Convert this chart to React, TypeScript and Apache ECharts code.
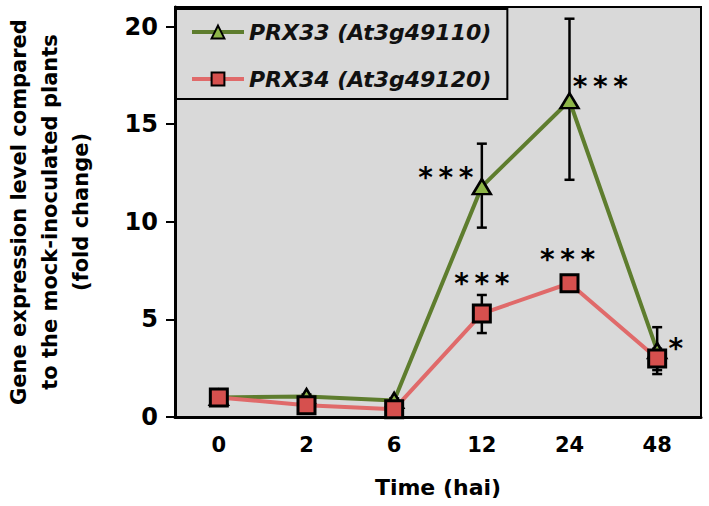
import React, { useEffect, useRef } from "react";
import * as echarts from "echarts";

const times = ["0", "2", "6", "12", "24", "48"];
const prx33 = [1.0, 1.05, 0.85, 11.8, 16.2, 3.4];
const prx33Low = [0.9, 0.95, 0.75, 9.7, 12.15, 2.2];
const prx33High = [1.1, 1.15, 0.95, 14.0, 20.4, 4.6];
const prx34 = [1.0, 0.6, 0.4, 5.3, 6.85, 3.0];
const prx34Low = [0.9, 0.45, 0.3, 4.3, 6.45, 2.4];
const prx34High = [1.1, 0.75, 0.5, 6.25, 7.25, 3.5];
const sig33 = ["", "", "", "*\u2009*\u2009*", "*\u2009*\u2009*", "*"];
const sig34 = ["", "", "", "*\u2009*\u2009*", "*\u2009*\u2009*", ""];
const yTicks = [0, 5, 10, 15, 20];

const NAME33 = "PRX33 (At3g49110)";
const NAME34 = "PRX34 (At3g49120)";
const FONT = "DejaVu Sans";

const labelPos33: any[] = [
  null, null, null,
  { position: "left", distance: 0, offset: [2, -9] },
  { position: "right", distance: 0, offset: [-7, -14] },
  { position: "right", distance: 1, offset: [0, -2] },
];
const labelPos34: any[] = [
  null, null, null,
  { position: "top", distance: 3, offset: [0, -3] },
  { position: "top", distance: 0, offset: [-2, 0] },
  null,
];

function buildData(vals: number[], sig: string[], pos: any[]) {
  return vals.map((v, i) => {
    if (!sig[i]) return v;
    return {
      value: v,
      label: {
        show: true,
        formatter: sig[i],
        color: "#000",
        fontFamily: FONT,
        fontWeight: "bold",
        fontSize: 28,
        ...pos[i],
      },
    };
  });
}

function errRender(params: any, api: any) {
  const x = api.value(0);
  const lo = api.coord([x, api.value(1)]);
  const hi = api.coord([x, api.value(2)]);
  const half = 5;
  const style = { stroke: "#000", lineWidth: 2.5 };
  return {
    type: "group",
    children: [
      { type: "line", shape: { x1: lo[0], y1: lo[1], x2: hi[0], y2: hi[1] }, style },
      { type: "line", shape: { x1: hi[0] - half, y1: hi[1], x2: hi[0] + half, y2: hi[1] }, style },
      { type: "line", shape: { x1: lo[0] - half, y1: lo[1], x2: lo[0] + half, y2: lo[1] }, style },
    ],
  };
}

export default function App() {
  const ref = useRef<HTMLDivElement>(null);
  useEffect(() => {
    if (!ref.current) return;
    const chart = echarts.init(ref.current, null, { renderer: "svg" });
    const option: any = {
      animation: false,
      backgroundColor: "#ffffff",
      grid: {
        left: 175,
        right: 8,
        top: 7,
        bottom: 89,
        show: true,
        outerBoundsMode: "none",
        containLabel: false,
        backgroundColor: "#d9d9d9",
        borderColor: "#000",
        borderWidth: 2,
      },
      legend: {
        data: [NAME33, NAME34],
        orient: "vertical",
        left: 176,
        top: 9,
        padding: [10, 16, 7, 14],
        itemGap: 21,
        itemWidth: 52,
        itemHeight: 16,
        backgroundColor: "#d9d9d9",
        borderColor: "#000",
        borderWidth: 2,
        lineStyle: { width: 4 },
        textStyle: {
          fontFamily: FONT,
          fontWeight: "bold",
          fontStyle: "italic",
          fontSize: 22,
          lineHeight: 26,
          color: "#111",
        },
      },
      xAxis: {
        type: "category",
        data: times,
        boundaryGap: true,
        axisLine: { show: true, lineStyle: { color: "#000", width: 3 } },
        axisTick: { show: false },
        axisLabel: {
          color: "#000",
          fontFamily: FONT,
          fontWeight: "bold",
          fontSize: 21,
          margin: 17,
        },
        name: "Time (hai)",
        nameLocation: "middle",
        nameGap: 59,
        nameTextStyle: {
          color: "#000",
          fontFamily: FONT,
          fontWeight: "bold",
          fontSize: 22,
        },
        splitLine: { show: false },
      },
      yAxis: {
        type: "value",
        min: 0,
        max: 21,
        interval: 5,
        axisLine: { show: true, lineStyle: { color: "#000", width: 3 } },
        axisTick: {
          show: true,
          length: 9,
          lineStyle: { color: "#000", width: 2 },
          customValues: yTicks,
        },
        axisLabel: {
          color: "#000",
          fontFamily: FONT,
          fontWeight: "bold",
          fontSize: 24,
          margin: 17,
          customValues: yTicks,
        },
        splitLine: { show: false },
        name: "Gene expression level compared\nto the mock-inoculated plants\n(fold change)",
        nameLocation: "middle",
        nameRotate: 90,
        nameGap: 79,
        nameTextStyle: {
          color: "#000",
          fontFamily: FONT,
          fontWeight: "bold",
          fontSize: 21,
          lineHeight: 31,
          align: "center",
        },
      },
      series: [
        {
          type: "custom",
          name: "err33",
          renderItem: errRender,
          data: times.map((_, i) => [i, prx33Low[i], prx33High[i]]),
          encode: { x: 0, y: [1, 2] },
          z: 1,
          silent: true,
        },
        {
          type: "custom",
          name: "err34",
          renderItem: errRender,
          data: times.map((_, i) => [i, prx34Low[i], prx34High[i]]),
          encode: { x: 0, y: [1, 2] },
          z: 1,
          silent: true,
        },
        {
          type: "line",
          name: NAME33,
          data: buildData(prx33, sig33, labelPos33),
          symbol: "triangle",
          symbolSize: [18, 15],
          lineStyle: { color: "#5e7d2e", width: 4 },
          itemStyle: { color: "#8db548", borderColor: "#000", borderWidth: 2.5 },
          z: 2,
        },
        {
          type: "line",
          name: NAME34,
          data: buildData(prx34, sig34, labelPos34),
          symbol: "rect",
          symbolSize: 17,
          lineStyle: { color: "#e06a6a", width: 4 },
          itemStyle: { color: "#d6504e", borderColor: "#000", borderWidth: 3 },
          z: 3,
        },
      ],
    };
    chart.setOption(option);
    return () => chart.dispose();
  }, []);
  return <div ref={ref} style={{ width: 709, height: 506, position: "absolute", left: 0, top: 0 }} />;
}
